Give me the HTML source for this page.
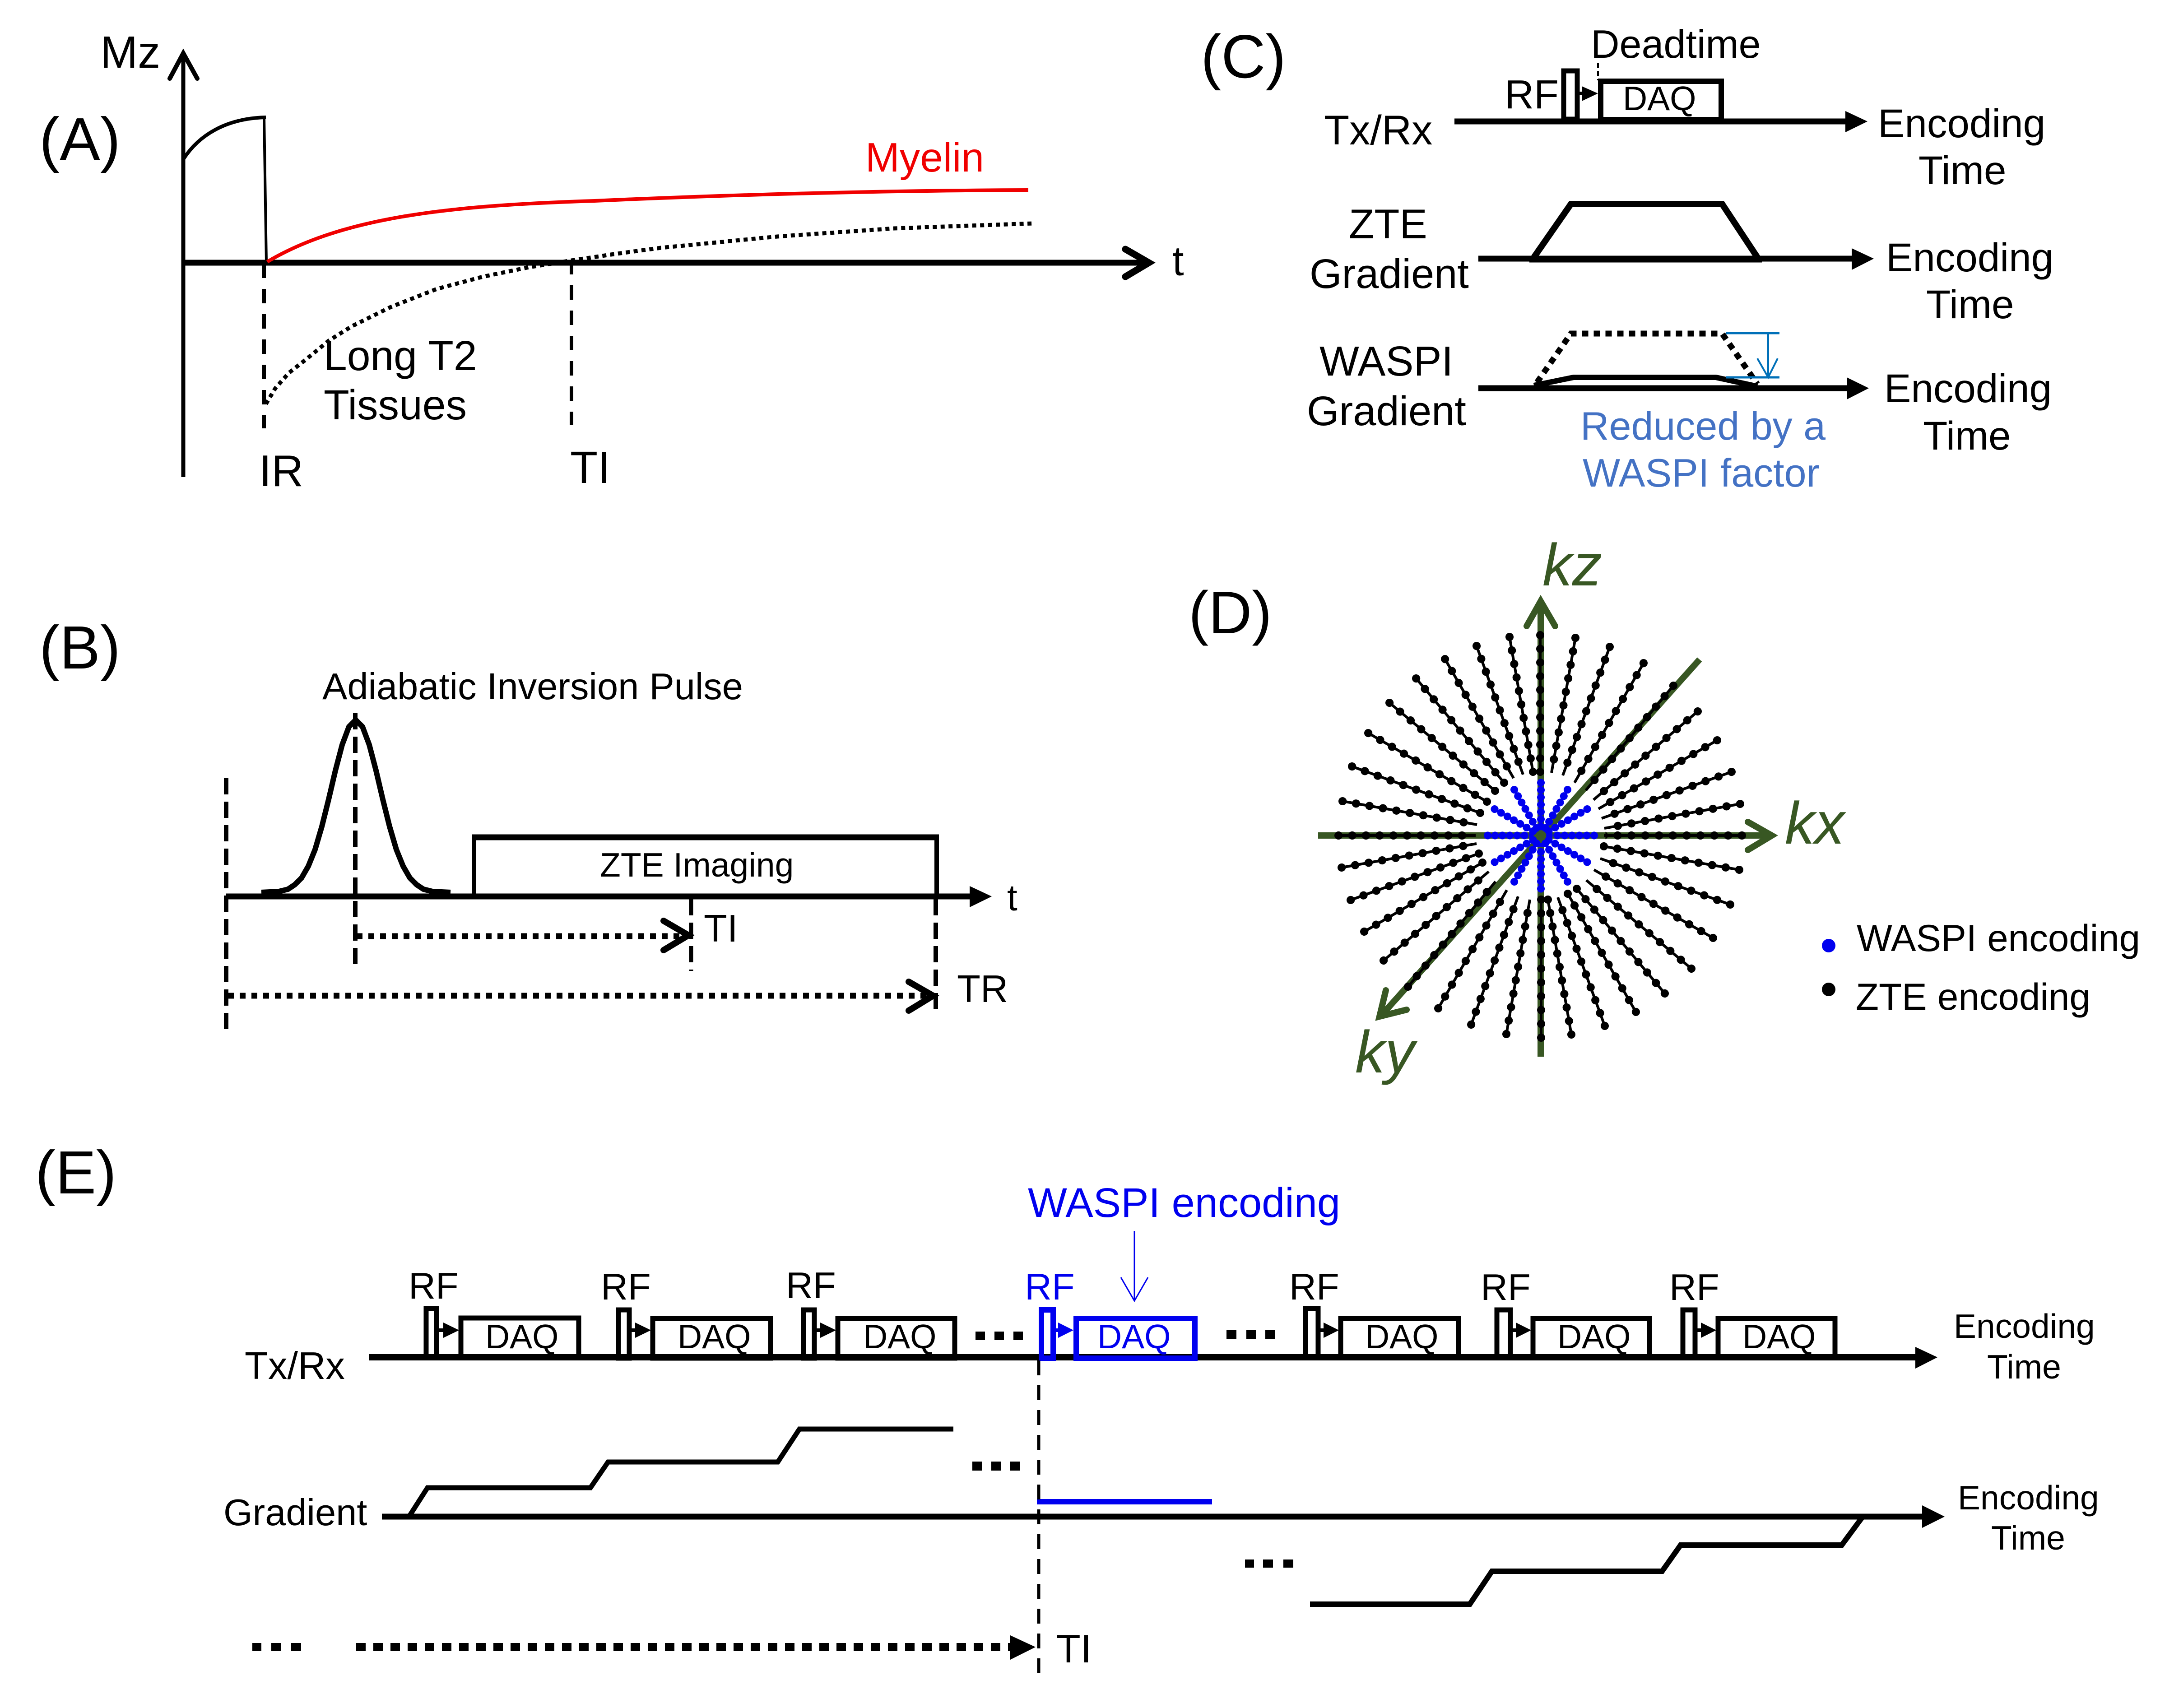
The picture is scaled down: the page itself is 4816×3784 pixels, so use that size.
<!DOCTYPE html>
<html><head><meta charset="utf-8"><title>Diagram</title>
<style>
html,body{margin:0;padding:0;background:#fff}
svg{display:block}
text{font-family:"Liberation Sans",Arial,sans-serif;fill:#000}
.e{stroke:#000;fill:none}
.b{stroke:#0000ef;fill:none}
.g{stroke:#385723;fill:none}
</style></head><body>
<svg xmlns="http://www.w3.org/2000/svg" width="4816" height="3784" viewBox="0 0 4816 3784">
<rect width="4816" height="3784" fill="#fff"/>

<!-- Panel A -->
<text x="87" y="355" font-size="135">(A)</text>
<text x="222" y="150" font-size="100">Mz</text>
<line class="e" x1="406" y1="120" x2="406" y2="1057" stroke-width="9"/>
<polyline class="e" points="376,174 406,118 437,174" stroke-width="10" stroke-linecap="round"/>
<line class="e" x1="406" y1="582" x2="2545" y2="582" stroke-width="13"/>
<polyline class="e" points="2493,552 2545,582 2493,613" stroke-width="15" stroke-linecap="round"/>
<text x="2597" y="610" font-size="92">t</text>
<path class="e" d="M406 353 C440 300 500 262 589 260" stroke-width="8"/>
<line class="e" x1="585" y1="260" x2="590" y2="580" stroke-width="6"/>
<path stroke="#f00000" fill="none" stroke-width="8" d="M592 580 C760 480 1000 455 1317 445 C1600 432 1950 422 2278 421"/>
<text x="1917" y="380" font-size="91" style="fill:#f00000">Myelin</text>
<polyline class="e" stroke-width="9" stroke-dasharray="9 8.5" points="589,895 610,860 640,826 677,797 728,755 779,723 866,680 968,640 1070,613 1172,592 1266,577 1360,563 1464,549 1722,524 1980,506 2287,495"/>
<line class="e" x1="585" y1="584" x2="585" y2="949" stroke-width="8" stroke-dasharray="32 24"/>
<line class="e" x1="1266" y1="576" x2="1266" y2="942" stroke-width="8" stroke-dasharray="32 24" stroke-dashoffset="0"/>
<text x="717" y="820" font-size="93">Long T2</text>
<text x="717" y="929" font-size="93">Tissues</text>
<text x="574" y="1077" font-size="98">IR</text>
<text x="1263" y="1070" font-size="100">TI</text>

<!-- Panel B -->
<text x="87" y="1481" font-size="135">(B)</text>
<text x="714" y="1549" font-size="83">Adiabatic Inversion Pulse</text>
<line class="e" x1="501" y1="1986" x2="2150" y2="1986" stroke-width="13"/>
<polygon points="2148,1963 2197,1986 2148,2010" fill="#000"/>
<text x="2231" y="2017" font-size="82">t</text>
<line class="e" x1="501" y1="1724" x2="501" y2="2282" stroke-width="10" stroke-dasharray="36 16"/>
<line class="e" x1="787" y1="1580" x2="787" y2="2138" stroke-width="10" stroke-dasharray="36 16"/>
<polyline class="e" stroke-width="12" stroke-linejoin="round" points="579,1977 598,1976 618,1975 638,1970 653,1960 668,1945 683,1919 698,1882 713,1831 728,1771 743,1707 758,1650 773,1610 788,1595 803,1610 818,1650 833,1707 848,1771 863,1831 878,1882 893,1919 908,1945 923,1960 938,1970 958,1975 978,1976 998,1977"/>
<polyline class="e" stroke-width="10" points="1050,1986 1050,1855 2075,1855 2075,1986"/>
<line class="e" x1="1045" y1="1855" x2="2080" y2="1855" stroke-width="13"/>
<text x="1329" y="1942" font-size="75">ZTE Imaging</text>
<line class="e" x1="1531" y1="1992" x2="1531" y2="2151" stroke-width="9" stroke-dasharray="36 16"/>
<line class="e" x1="2073" y1="1992" x2="2073" y2="2240" stroke-width="10" stroke-dasharray="36 16"/>
<line class="e" x1="790" y1="2074" x2="1520" y2="2074" stroke-width="13" stroke-dasharray="13 13"/>
<polyline class="e" stroke-width="14" stroke-linecap="round" points="1470,2040 1525,2072 1470,2105"/>
<line class="e" x1="505" y1="2206" x2="2060" y2="2206" stroke-width="13" stroke-dasharray="13 13"/>
<polyline class="e" stroke-width="14" stroke-linecap="round" points="2013,2175 2067,2206 2013,2239"/>
<text x="1559" y="2086" font-size="85">TI</text>
<text x="2120" y="2220" font-size="85">TR</text>

<!-- Panel C -->
<text x="2660" y="172" font-size="136">(C)</text>
<text x="3524" y="128" font-size="88">Deadtime</text>
<line class="e" x1="3540" y1="139" x2="3540" y2="178" stroke-width="4" stroke-dasharray="12 6"/>
<text x="3333" y="240" font-size="90">RF</text>
<line class="e" x1="3222" y1="269" x2="4090" y2="269" stroke-width="13"/>
<polygon points="4088,246 4137,269 4088,293" fill="#000"/>
<rect class="e" x="3464" y="157" width="30" height="107" stroke-width="11"/>
<rect class="e" x="3546" y="180" width="267" height="85" stroke-width="12"/>
<line class="e" x1="3499" y1="207" x2="3510" y2="207" stroke-width="8"/>
<polygon points="3504,191 3540,207 3504,224" fill="#000"/>
<text x="3595" y="244" font-size="75">DAQ</text>
<text x="2933" y="320" font-size="92">Tx/Rx</text>
<text x="4160" y="304" font-size="89">Encoding</text>
<text x="4250" y="408" font-size="89">Time</text>

<text x="2988" y="528" font-size="92">ZTE</text>
<text x="2901" y="638" font-size="92">Gradient</text>
<line class="e" x1="3275" y1="573" x2="4105" y2="573" stroke-width="13"/>
<polygon points="4102,550 4151,573 4102,598" fill="#000"/>
<polyline class="e" stroke-width="14" points="3398,570 3480,452 3815,452 3893,570"/>
<line class="e" x1="3388" y1="575" x2="3903" y2="575" stroke-width="13"/>
<text x="4178" y="601" font-size="89">Encoding</text>
<text x="4267" y="705" font-size="89">Time</text>

<text x="2923" y="832" font-size="93">WASPI</text>
<text x="2895" y="942" font-size="92">Gradient</text>
<line class="e" x1="3275" y1="860" x2="4091" y2="860" stroke-width="13"/>
<polygon points="4091,836 4140,860 4091,885" fill="#000"/>
<polyline class="e" stroke-width="13" stroke-dasharray="14 12" points="3405,847 3480,739 3815,739 3893,851"/>
<polyline class="e" stroke-width="12" points="3398,854 3486,836 3801,836 3893,856"/>
<g stroke="#0070b8" fill="none">
<line x1="3824" y1="738" x2="3942" y2="738" stroke-width="5"/>
<line x1="3824" y1="836" x2="3942" y2="836" stroke-width="5"/>
<line x1="3917" y1="738" x2="3917" y2="836" stroke-width="4"/>
<polyline points="3893,794 3917,836 3938,794" stroke-width="4"/>
</g>
<text x="3501" y="974" font-size="88" style="fill:#4472c4">Reduced by a</text>
<text x="3506" y="1078" font-size="88" style="fill:#4472c4">WASPI factor</text>
<text x="4174" y="891" font-size="89">Encoding</text>
<text x="4260" y="996" font-size="89">Time</text>

<!-- Panel D -->
<text x="2633" y="1403" font-size="133">(D)</text>
<line class="g" x1="3413" y1="1335" x2="3413" y2="2341" stroke-width="14"/>
<polyline class="g" stroke-width="14" stroke-linecap="round" points="3382,1387 3413,1332 3445,1387"/>
<line class="g" x1="2920" y1="1851" x2="3925" y2="1851" stroke-width="14"/>
<polyline class="g" stroke-width="14" stroke-linecap="round" points="3872,1821 3925,1851 3872,1883"/>
<line class="g" x1="3765" y1="1461" x2="3058" y2="2252" stroke-width="14"/>
<polyline class="g" stroke-width="14" stroke-linecap="round" points="3070,2194 3056,2252 3116,2237"/>
<rect x="3399" y="1837" width="29" height="29" fill="#385723"/>
<g font-style="italic" font-size="132">
<text x="3417" y="1297" style="fill:#385723">kz</text>
<text x="3954" y="1869" style="fill:#385723">kx</text>
<text x="3002" y="2376" style="fill:#385723">ky</text>
</g>
<g stroke="#000" stroke-width="6">
<path d="M3412 1407L3412 1710M3490 1413L3437 1712M3566 1433L3462 1718M3641 1469L3488 1734M3707 1519L3513 1751M3761 1576L3530 1772M3804 1640L3541 1792M3836 1710L3548 1813M3855 1781L3554 1835M3859 1851L3553 1851M3853 1927L3553 1875M3833 2004L3545 1902M3795 2078L3531 1927M3747 2146L3514 1950M3688 2201L3493 1969M3624 2242L3473 1980M3555 2273L3451 1988M3481 2292L3429 1993M3414 2299L3414 1993M3337 2291L3389 1993M3259 2270L3363 1986M3186 2234L3338 1972M3119 2186L3313 1953M3065 2128L3298 1931M3022 2064L3284 1911M2992 1994L3276 1891M2972 1922L3271 1869M2965 1851L3269 1851M2974 1775L3272 1827M2995 1698L3279 1801M3031 1624L3294 1776M3078 1557L3312 1752M3137 1503L3332 1734M3201 1460L3353 1724M3271 1431L3374 1716M3344 1411L3396 1710"/>
</g>
<g stroke="#000" stroke-width="18" stroke-linecap="round" stroke-dasharray="0.01 0.99">
<line pathLength="10" x1="3412" y1="1407" x2="3412" y2="1710.1"/>
<line pathLength="10" x1="3490" y1="1413" x2="3437" y2="1712.1"/>
<line pathLength="10" x1="3566" y1="1433" x2="3462" y2="1718.1"/>
<line pathLength="10" x1="3641" y1="1469" x2="3488" y2="1734.1"/>
<line pathLength="10" x1="3707" y1="1519" x2="3513" y2="1751.1"/>
<line pathLength="10" x1="3761" y1="1576" x2="3530" y2="1772.1"/>
<line pathLength="10" x1="3804" y1="1640" x2="3541" y2="1792.1"/>
<line pathLength="10" x1="3836" y1="1710" x2="3548" y2="1813.1"/>
<line pathLength="10" x1="3855" y1="1781" x2="3554" y2="1835.1"/>
<line pathLength="10" x1="3859" y1="1851" x2="3553" y2="1851"/>
<line pathLength="10" x1="3853" y1="1927" x2="3553" y2="1875"/>
<line pathLength="10" x1="3833" y1="2004" x2="3545" y2="1902"/>
<line pathLength="10" x1="3795" y1="2078" x2="3531" y2="1927"/>
<line pathLength="10" x1="3747" y1="2146" x2="3514" y2="1950"/>
<line pathLength="10" x1="3688" y1="2201" x2="3493" y2="1969"/>
<line pathLength="10" x1="3624" y1="2242" x2="3473" y2="1980"/>
<line pathLength="10" x1="3555" y1="2273" x2="3451" y2="1988"/>
<line pathLength="10" x1="3481" y1="2292" x2="3429" y2="1993"/>
<line pathLength="10" x1="3414" y1="2299" x2="3414" y2="1993"/>
<line pathLength="10" x1="3337" y1="2291" x2="3389" y2="1993"/>
<line pathLength="10" x1="3259" y1="2270" x2="3363" y2="1986"/>
<line pathLength="10" x1="3186" y1="2234" x2="3338" y2="1972"/>
<line pathLength="10" x1="3119" y1="2186" x2="3313" y2="1953"/>
<line pathLength="10" x1="3065" y1="2128" x2="3298" y2="1931"/>
<line pathLength="10" x1="3022" y1="2064" x2="3284" y2="1911"/>
<line pathLength="10" x1="2992" y1="1994" x2="3276" y2="1891"/>
<line pathLength="10" x1="2972" y1="1922" x2="3271" y2="1869"/>
<line pathLength="10" x1="2965" y1="1851" x2="3269" y2="1851"/>
<line pathLength="10" x1="2974" y1="1775" x2="3272" y2="1827"/>
<line pathLength="10" x1="2995" y1="1698" x2="3279" y2="1801"/>
<line pathLength="10" x1="3031" y1="1624" x2="3294" y2="1776"/>
<line pathLength="10" x1="3078" y1="1557" x2="3312" y2="1752"/>
<line pathLength="10" x1="3137" y1="1503" x2="3332" y2="1734"/>
<line pathLength="10" x1="3201" y1="1460" x2="3353" y2="1724"/>
<line pathLength="10" x1="3271" y1="1431" x2="3374" y2="1716"/>
<line pathLength="10" x1="3344" y1="1411" x2="3396" y2="1710"/>
</g>
<g stroke="#0000ef" stroke-width="17" stroke-linecap="round" stroke-dasharray="0.01 0.99">
<line pathLength="6" x1="3413.5" y1="1734" x2="3413.5" y2="1831"/>
<line pathLength="6" x1="3472.5" y1="1749.5" x2="3423.5" y2="1834.5"/>
<line pathLength="6" x1="3516" y1="1792.5" x2="3431" y2="1841.5"/>
<line pathLength="6" x1="3531.5" y1="1851" x2="3433.5" y2="1851"/>
<line pathLength="6" x1="3516" y1="1910" x2="3431" y2="1861"/>
<line pathLength="6" x1="3472.5" y1="1953.5" x2="3423.5" y2="1868.5"/>
<line pathLength="6" x1="3413.5" y1="1969" x2="3413.5" y2="1871"/>
<line pathLength="6" x1="3354.5" y1="1953.5" x2="3403.5" y2="1868.5"/>
<line pathLength="6" x1="3311" y1="1910" x2="3396" y2="1861"/>
<line pathLength="6" x1="3295.5" y1="1851" x2="3393.5" y2="1851"/>
<line pathLength="6" x1="3311" y1="1792.5" x2="3396" y2="1841.5"/>
<line pathLength="6" x1="3354.5" y1="1749.5" x2="3403.5" y2="1834.5"/>
</g>
<circle cx="3413.5" cy="1851" r="21" fill="none" stroke="#0000ef" stroke-width="10"/>
<circle cx="4051" cy="2095" r="15" fill="#0000ef"/>
<circle cx="4051" cy="2192" r="15" fill="#000"/>
<text x="4113" y="2107" font-size="83.5">WASPI encoding</text>
<text x="4111" y="2237" font-size="83.5">ZTE encoding</text>

<!-- Panel E -->
<text x="78" y="2644" font-size="135">(E)</text>
<text x="542" y="3055" font-size="85">Tx/Rx</text>
<line class="e" x1="818" y1="3007" x2="4245" y2="3007" stroke-width="14"/>
<polygon points="4243,2984 4292,3007 4243,3032" fill="#000"/>

<g stroke="#000" fill="none" stroke-width="11">
<rect x="944" y="2899" width="23" height="108"/>
<rect x="1021" y="2920" width="261" height="87"/>
<rect x="1370" y="2902" width="24" height="107"/>
<rect x="1446" y="2921" width="261" height="88"/>
<rect x="1780" y="2902" width="24" height="107"/>
<rect x="1856" y="2921" width="259" height="88"/>
<rect x="2892" y="2899" width="28" height="108"/>
<rect x="2970" y="2921" width="261" height="86"/>
<rect x="3316" y="2902" width="30" height="105"/>
<rect x="3396" y="2921" width="258" height="86"/>
<rect x="3728" y="2902" width="27" height="105"/>
<rect x="3806" y="2921" width="259" height="86"/>
</g>
<g fill="#000">
<rect x="972" y="2943" width="14" height="8"/><polygon points="982,2930 1017,2947 982,2964"/>
<rect x="1399" y="2943" width="14" height="8"/><polygon points="1407,2930 1442,2947 1407,2964"/>
<rect x="1809" y="2943" width="14" height="8"/><polygon points="1817,2930 1852,2947 1817,2964"/>
<rect x="2925" y="2943" width="14" height="8"/><polygon points="2932,2930 2966,2947 2932,2964"/>
<rect x="3351" y="2943" width="14" height="8"/><polygon points="3358,2930 3392,2947 3358,2964"/>
<rect x="3760" y="2943" width="14" height="8"/><polygon points="3768,2930 3802,2947 3768,2964"/>
<rect x="2161" y="2950" width="21" height="19"/><rect x="2203" y="2950" width="21" height="19"/><rect x="2245" y="2950" width="21" height="19"/>
<rect x="2717" y="2947" width="22" height="20"/><rect x="2761" y="2947" width="21" height="20"/><rect x="2803" y="2947" width="22" height="20"/>
<rect x="2154" y="3238" width="21" height="20"/><rect x="2196" y="3238" width="21" height="20"/><rect x="2238" y="3238" width="21" height="20"/>
<rect x="2758" y="3455" width="20" height="18"/><rect x="2798" y="3455" width="22" height="18"/><rect x="2843" y="3455" width="22" height="18"/>
<rect x="559" y="3640" width="20" height="18"/><rect x="601" y="3640" width="21" height="18"/><rect x="645" y="3640" width="22" height="18"/>
</g>
<g stroke="#0000ef" fill="none" stroke-width="12">
<rect x="2307" y="2902" width="26" height="107"/>
<rect x="2384" y="2921" width="263" height="88"/>
</g>
<rect x="2339" y="2943" width="14" height="8" fill="#0000ef"/><polygon points="2344,2930 2378,2947 2344,2964" fill="#0000ef"/>
<g font-size="83">
<text x="905" y="2877">RF</text>
<text x="1331" y="2879">RF</text>
<text x="1741" y="2876">RF</text>
<text x="2856" y="2879">RF</text>
<text x="3280" y="2880">RF</text>
<text x="3698" y="2880">RF</text>
<text x="2270" y="2879" style="fill:#0000ef">RF</text>
</g>
<g font-size="75">
<text x="1075" y="2987">DAQ</text>
<text x="1501" y="2987">DAQ</text>
<text x="1912" y="2987">DAQ</text>
<text x="2431" y="2987" style="fill:#0000ef">DAQ</text>
<text x="3024" y="2987">DAQ</text>
<text x="3450" y="2987">DAQ</text>
<text x="3860" y="2987">DAQ</text>
</g>
<text x="2277" y="2696" font-size="92" style="fill:#0000ef">WASPI encoding</text>
<line x1="2513" y1="2727" x2="2513" y2="2880" stroke="#0000ef" stroke-width="3"/>
<polyline points="2483,2830 2513,2882 2543,2830" stroke="#0000ef" stroke-width="3" fill="none"/>
<text x="4328" y="2964" font-size="75">Encoding</text>
<text x="4402" y="3054" font-size="75">Time</text>

<text x="495" y="3379" font-size="83">Gradient</text>
<line class="e" x1="846" y1="3360" x2="4260" y2="3360" stroke-width="13"/>
<polygon points="4258,3335 4308,3360 4258,3385" fill="#000"/>
<polyline class="e" stroke-width="11" points="908,3357 947,3296 1308,3296 1347,3239 1723,3239 1771,3166 2112,3166"/>
<line x1="2297" y1="3327" x2="2685" y2="3327" stroke="#0000ef" stroke-width="12"/>
<polyline class="e" stroke-width="12" points="2902,3554 3256,3554 3305,3481 3682,3481 3723,3423 4080,3423 4125,3362"/>
<text x="4337" y="3344" font-size="75">Encoding</text>
<text x="4411" y="3433" font-size="75">Time</text>

<line class="e" x1="2301" y1="3014" x2="2301" y2="3716" stroke-width="7" stroke-dasharray="33 22"/>
<line class="e" x1="789" y1="3649" x2="2238" y2="3649" stroke-width="18" stroke-dasharray="21 17"/>
<polygon points="2238,3623 2294,3649 2238,3677" fill="#000"/>
<text x="2340" y="3683" font-size="88">TI</text>
</svg>
</body></html>
